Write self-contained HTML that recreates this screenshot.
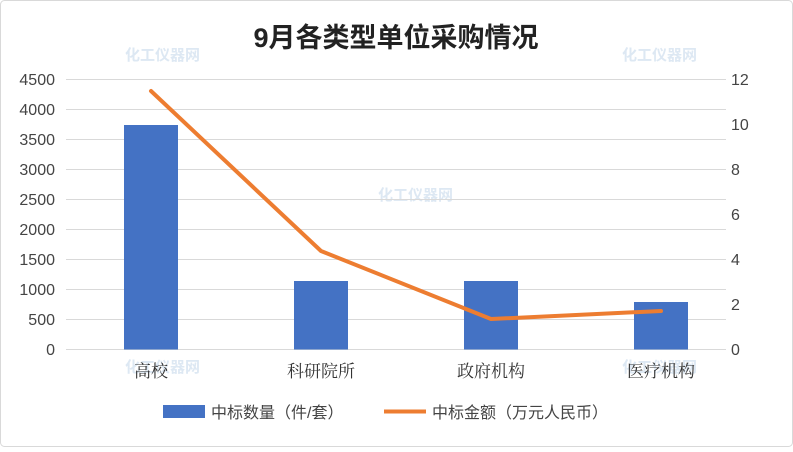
<!DOCTYPE html>
<html><head><meta charset="utf-8"><style>
html,body{margin:0;padding:0;background:#fff;}
</style></head><body>
<svg width="793" height="447" xmlns="http://www.w3.org/2000/svg" font-family="Liberation Sans, Noto Sans CJK SC, sans-serif">
<rect x="0.5" y="0.5" width="792" height="446" rx="4" fill="#fff" stroke="#d9d9d9"/>
<g fill="#dde8f3" font-size="15" font-weight="bold">
<text x="125" y="60">化工仪器网</text><text x="622" y="60">化工仪器网</text>
<text x="378" y="200">化工仪器网</text><text x="125" y="372">化工仪器网</text><text x="622" y="372">化工仪器网</text>
</g>
<text x="396" y="47" text-anchor="middle" font-size="27" font-weight="bold" fill="#222">9月各类型单位采购情况</text>
<g stroke="#d9d9d9" stroke-width="1">
<line x1="66" x2="726" y1="79.5" y2="79.5"/><line x1="66" x2="726" y1="109.5" y2="109.5"/>
<line x1="66" x2="726" y1="139.5" y2="139.5"/><line x1="66" x2="726" y1="169.5" y2="169.5"/>
<line x1="66" x2="726" y1="199.5" y2="199.5"/><line x1="66" x2="726" y1="229.5" y2="229.5"/>
<line x1="66" x2="726" y1="259.5" y2="259.5"/><line x1="66" x2="726" y1="289.5" y2="289.5"/>
<line x1="66" x2="726" y1="319.5" y2="319.5"/><line x1="66" x2="726" y1="349.5" y2="349.5"/>
</g>
<g font-size="16" fill="#444" text-anchor="end">
<text x="55" y="85">4500</text><text x="55" y="115">4000</text><text x="55" y="145">3500</text>
<text x="55" y="175">3000</text><text x="55" y="205">2500</text><text x="55" y="235">2000</text>
<text x="55" y="265">1500</text><text x="55" y="295">1000</text><text x="55" y="325">500</text>
<text x="55" y="355">0</text>
</g>
<g font-size="16" fill="#444" text-anchor="start">
<text x="731" y="85">12</text><text x="731" y="130">10</text><text x="731" y="175">8</text>
<text x="731" y="220">6</text><text x="731" y="265">4</text><text x="731" y="310">2</text><text x="731" y="355">0</text>
</g>
<g fill="#4472c4">
<rect x="124" y="125" width="54" height="224.5"/>
<rect x="294" y="281" width="54" height="68.5"/>
<rect x="464" y="281" width="54" height="68.5"/>
<rect x="634" y="302" width="54" height="47.5"/>
</g>
<polyline points="151,91 321,251 491,319 661,311" fill="none" stroke="#ed7d31" stroke-width="4" stroke-linejoin="round" stroke-linecap="round"/>
<g font-family="Liberation Serif, Noto Serif CJK SC, serif" font-size="17" fill="#333" text-anchor="middle">
<text x="151" y="377">高校</text><text x="321" y="377">科研院所</text><text x="491" y="377">政府机构</text><text x="661" y="377">医疗机构</text>
</g>
<rect x="163" y="405" width="42" height="13" fill="#4472c4"/>
<text x="211" y="418" font-size="16" fill="#444">中标数量（件/套）</text>
<line x1="384" x2="426" y1="411.5" y2="411.5" stroke="#ed7d31" stroke-width="4"/>
<text x="432" y="418" font-size="16" fill="#444">中标金额（万元人民币）</text>
</svg>
</body></html>
